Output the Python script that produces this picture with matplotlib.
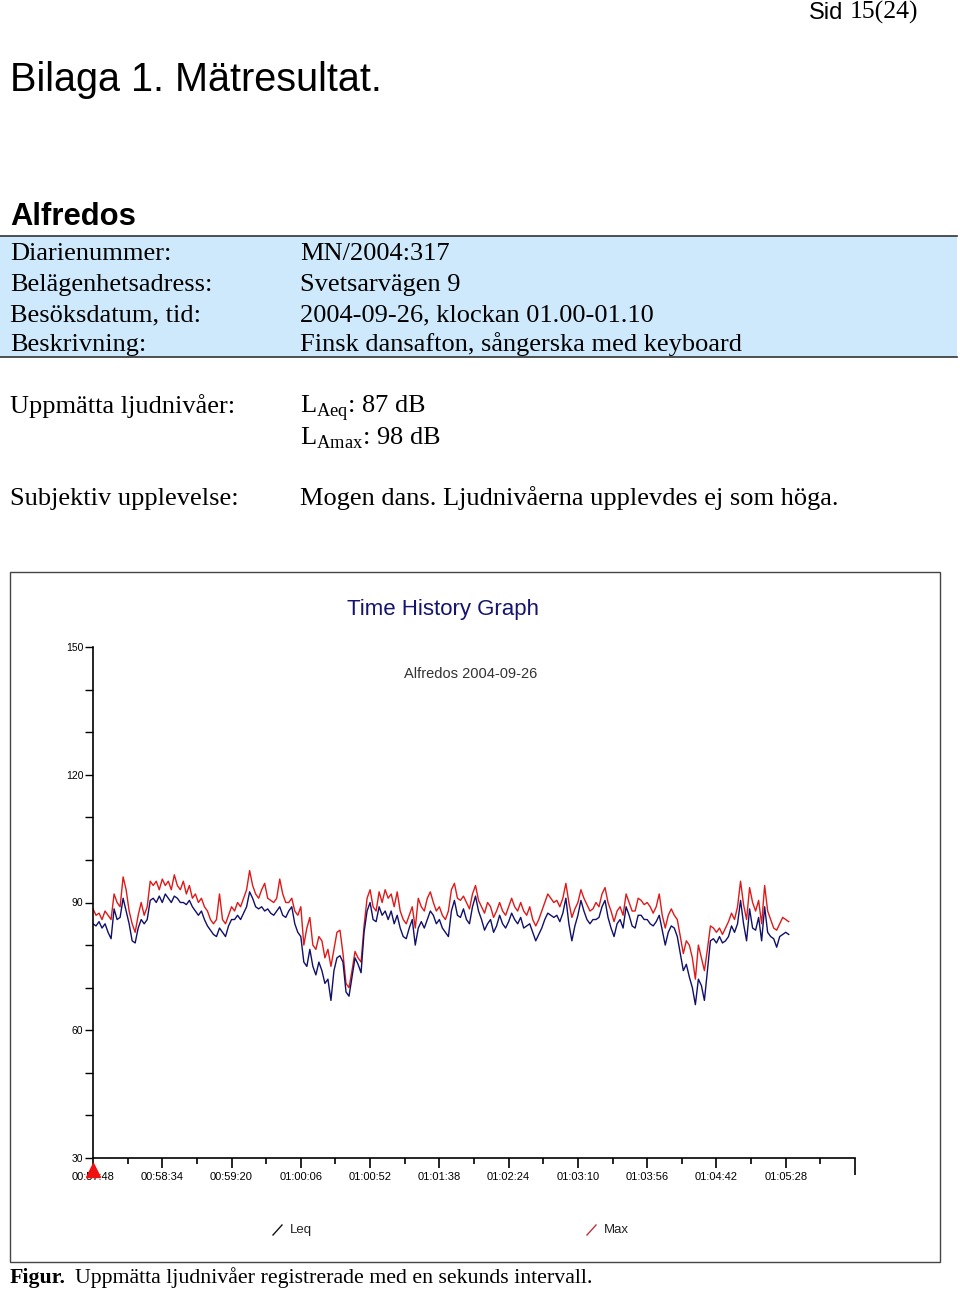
import numpy as np
import matplotlib.pyplot as plt
from matplotlib.patches import Rectangle
from matplotlib.lines import Line2D

plt.rcParams['mathtext.fontset'] = 'custom'
plt.rcParams['mathtext.rm'] = 'Liberation Serif'

# ---- data: one value every 2 s, starting 00:57:48 ----
t_step = 2
max_db = [88.5, 87, 87.5, 86, 88, 87, 86, 92, 90, 89,
          96, 93, 88, 85, 83, 87, 90, 87, 89, 95,
          94, 95, 93, 95.5, 94, 95, 93, 96.5, 94, 93,
          95, 92, 94, 91, 92, 90, 91, 89, 88, 86,
          85, 86, 92, 86, 85, 87, 89, 88, 90, 89,
          91, 93, 97.5, 94, 92, 91, 93, 94.5, 91, 90.5,
          90, 91, 95.5, 92, 90, 90, 91, 88, 87, 89,
          80, 84, 86.5, 80, 79, 82, 81, 77, 79, 75,
          79, 83, 83.5, 78, 71, 70, 74, 78.5, 77, 76,
          84.5, 91, 93, 89, 88, 92.5, 90, 93, 91, 92,
          89, 92.5, 88, 86, 85, 87, 89, 84, 91, 89,
          88, 91, 92.5, 90, 88, 89, 87, 86, 88, 93,
          94.5, 91, 90.5, 91.5, 90, 88.5, 92, 94, 90.5, 89,
          87.5, 90, 89, 86.5, 88, 90, 88, 87, 89, 91,
          89, 88, 90, 88, 87, 89, 86, 84.5, 86, 88,
          90, 92, 91, 90, 90.5, 89, 91, 94.5, 90, 86.5,
          88.5, 90, 93, 91, 89.5, 88, 88.5, 90, 89, 92,
          93.5, 90, 88, 85.5, 88, 89, 87, 92, 90, 88,
          88, 91, 90.5, 89.5, 90, 89, 87.5, 89, 92, 87,
          84, 87, 88.5, 87, 86, 82, 78, 81, 80, 77,
          72, 80, 77, 74, 79, 84.5, 84, 83, 84, 82.5,
          84, 85.5, 87.5, 86, 89, 95, 89.5, 86, 93.5, 90,
          88, 90.5, 85, 94, 88, 86, 84, 83.5, 85, 86.5, 86, 85.5]
leq_db = [85, 84.5, 85.5, 84, 85, 83, 81.5, 88.5, 86, 86.5,
          91, 88, 85, 81, 80.5, 84, 86, 85, 86, 90.5,
          91, 90, 91.5, 90, 92, 91, 90, 91.5, 91, 90,
          90, 89.5, 90.5, 89, 88, 87, 88, 86, 84.5, 83.5,
          82.5, 82, 84, 83, 82, 84.5, 86, 86, 87, 86,
          87.5, 89, 92.5, 91, 89, 88.5, 89, 88, 88.5, 87.5,
          87, 88, 89, 87, 86.5, 88, 89, 85, 83, 82,
          76, 75, 79, 75, 73, 76, 74, 71, 72, 67,
          74, 77, 77.5, 76, 69, 68, 72.5, 77, 75.5, 73.5,
          83, 88, 90, 86, 85.5, 89, 87, 88, 86, 88,
          85, 87, 84, 82, 81.5, 84, 86, 80, 84, 85.5,
          84, 86, 88, 87, 85, 86, 84, 83, 82, 88,
          90.5, 87, 86.5, 88.5, 86, 85, 89, 91.5, 88, 86,
          83.5, 85, 86, 83, 84.5, 87, 85, 84, 85.5, 87.5,
          86, 85, 86.5, 84, 84.5, 85, 83, 81, 82.5, 84,
          86, 87.5, 87, 86.5, 87, 85.5, 87.5, 91, 85, 81,
          84.5, 87, 90.5, 88, 86, 85, 86, 86, 86.5, 89,
          90.5, 86.5, 84, 82, 85, 86, 84, 89, 87, 84.5,
          84, 87, 87, 86, 86, 85, 84.5, 85.5, 87, 83.5,
          80, 83, 84.5, 84, 82, 78, 74, 75.5, 72.5, 70,
          66, 72, 70.5, 67, 74, 81, 81.5, 80.5, 82, 80.5,
          81, 82, 84.5, 83, 85, 90.5, 85, 81, 88.5, 84,
          83.5, 86.5, 81, 89, 83, 82, 81.5, 79.5, 82, 82.5, 83, 82.5]
t_sec = np.arange(len(max_db)) * t_step

tick_labels = ['00:57:48', '00:58:34', '00:59:20', '01:00:06', '01:00:52', '01:01:38',
               '01:02:24', '01:03:10', '01:03:56', '01:04:42', '01:05:28', '']
tick_step = 46
y_ticks = [30, 60, 90, 120, 150]

W, H = 960, 1290
fig = plt.figure(figsize=(W / 100, H / 100), dpi=100)


def fy(py):
    return 1 - py / H


def fx(px):
    return px / W


sans = 'Liberation Sans'
serif = 'Liberation Serif'
body = 19

# ---- page text ----
fig.text(fx(918), fy(19), '15(24)', family=serif, fontsize=18.5, ha='right', va='baseline')
fig.text(fx(843), fy(19), 'Sid', family=sans, fontsize=17, ha='right', va='baseline')
fig.text(fx(10), fy(80), 'Bilaga 1. Mätresultat.', family=sans, fontsize=28.5, ha='left', va='center')
fig.text(fx(10), fy(217), 'Alfredos', family=sans, fontsize=22.3, weight='bold', ha='left', va='center')

fig.add_artist(Rectangle((0, fy(357)), fx(957), fy(236) - fy(357), transform=fig.transFigure,
                         facecolor='#cde9fb', edgecolor='none', zorder=0))
for py in (236, 357):
    fig.add_artist(Line2D([0, fx(957)], [fy(py), fy(py)], transform=fig.transFigure,
                          color='#333333', lw=1.2))

rows = [('Diarienummer:', 'MN/2004:317'),
        ('Belägenhetsadress:', 'Svetsarvägen 9'),
        ('Besöksdatum, tid:', '2004-09-26, klockan 01.00-01.10'),
        ('Beskrivning:', 'Finsk dansafton, sångerska med keyboard')]
for k, (lab, val) in enumerate(rows):
    py = 260 + k * 30.5
    fig.text(fx(10), fy(py), lab, family=serif, fontsize=body, va='baseline')
    fig.text(fx(300), fy(py), val, family=serif, fontsize=body, va='baseline')

fig.text(fx(10), fy(413), 'Uppmätta ljudnivåer:', family=serif, fontsize=body, va='baseline')
fig.text(fx(300), fy(413), r'L$_{\mathrm{Aeq}}$: 87 dB', family=serif, fontsize=body, va='baseline')
fig.text(fx(300), fy(444), r'L$_{\mathrm{Amax}}$: 98 dB', family=serif, fontsize=body, va='baseline')
fig.text(fx(10), fy(505), 'Subjektiv upplevelse:', family=serif, fontsize=body, va='baseline')
fig.text(fx(300), fy(505), 'Mogen dans. Ljudnivåerna upplevdes ej som höga.', family=serif,
         fontsize=body, va='baseline')

# caption
fig.text(fx(10), fy(1283), 'Figur.', family=serif, fontsize=15.75, weight='bold', va='baseline')
fig.text(fx(75), fy(1283), 'Uppmätta ljudnivåer registrerade med en sekunds intervall.',
         family=serif, fontsize=15.75, va='baseline')

# ---- chart frame ----
fig.add_artist(Rectangle((fx(10), fy(1262)), fx(940) - fx(10), fy(572) - fy(1262),
                         transform=fig.transFigure, facecolor='none', edgecolor='#444444', lw=1))
fig.text(fx(443), fy(609), 'Time History Graph', family=sans, fontsize=16, color='#141470',
         ha='center', va='center')
fig.text(fx(471), fy(674), 'Alfredos 2004-09-26', family=sans, fontsize=10.5, color='#333333',
         ha='center', va='center')

ax = fig.add_axes([fx(93), fy(1158), fx(855) - fx(93), fy(647) - fy(1158)])
ax.plot(t_sec, max_db, color='#e01818', lw=1.0)
ax.plot(t_sec, leq_db, color='#10106a', lw=1.0)

ax.set_xlim(0, tick_step * (len(tick_labels) - 1))
ax.set_ylim(30, 150)
for s in ('top', 'right'):
    ax.spines[s].set_visible(False)
for s in ('left', 'bottom'):
    ax.spines[s].set_linewidth(1.2)
    ax.spines[s].set_color('black')

ax.set_xticks(np.arange(len(tick_labels)) * tick_step)
ax.set_xticklabels(tick_labels)
ax.set_xticks(np.arange(len(tick_labels) - 1) * tick_step + tick_step / 2, minor=True)
ax.set_yticks(y_ticks)
ax.set_yticklabels([str(v) for v in y_ticks])
ax.set_yticks(np.arange(30, 151, 10), minor=True)
ax.tick_params(axis='x', which='major', length=7, width=1.2, labelsize=8, pad=3)
ax.tick_params(axis='x', which='minor', length=4, width=1.2)
ax.tick_params(axis='y', which='major', length=6, width=1, labelsize=7.5, pad=1)
ax.tick_params(axis='y', which='minor', length=6, width=1)
for lbl in ax.get_xticklabels() + ax.get_yticklabels():
    lbl.set_family(sans)
ax.xaxis.get_major_ticks()[-1].tick1line.set_markersize(12)

# cursor marker at start of record
ax.plot([t_sec[0]], [-0.024], marker='^', color='#ee1111', markersize=10,
        transform=ax.get_xaxis_transform(), clip_on=False)

# legend
for px, col, name in ((273, '#111111', 'Leq'), (587, '#c03040', 'Max')):
    fig.add_artist(Line2D([fx(px), fx(px + 9)], [fy(1235), fy(1225)], transform=fig.transFigure,
                          color=col, lw=1))
    fig.text(fx(px + 17), fy(1230), name, family=sans, fontsize=9.5, color='#222222',
             ha='left', va='center')

fig.savefig('out.png', dpi=100)
